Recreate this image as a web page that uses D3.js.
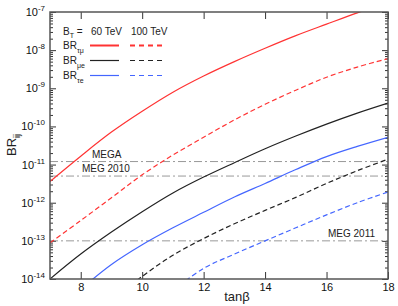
<!DOCTYPE html>
<html>
<head>
<meta charset="utf-8">
<script src="https://cdn.jsdelivr.net/npm/d3@7"></script>
<style>
  body { margin: 0; background: #fff; }
  svg { display: block; font-family: "Liberation Sans", Arial, sans-serif; }
</style>
</head>
<body>
<svg id="chart" width="398" height="306"></svg>
<script>
// tan(beta) sample points shared by every curve
const tanBeta = [7, 8, 9, 10, 11, 12, 13, 14, 15, 16, 17, 18];

// BR values (null = curve not drawn there)
const tauMu60  = [3.6e-12, 1.66e-11, 7.1e-11, 2.5e-10, 7.9e-10, 2.1e-9, 5.0e-9, 1.12e-8, 2.4e-8, 4.8e-8, 9.5e-8, 1.8e-7];
const tauMu100 = [8.9e-14, 3.4e-13, 1.35e-12, 5.4e-12, 1.78e-11, 5.2e-11, 1.48e-10, 3.8e-10, 8.9e-10, 1.95e-9, 3.6e-9, 6.0e-9];
const muE60    = [1.0e-14, 4.5e-14, 1.7e-13, 5.8e-13, 1.8e-12, 4.7e-12, 1.12e-11, 2.6e-11, 5.6e-11, 1.15e-10, 2.24e-10, 4.1e-10];
const muE100   = [null, null, 2.8e-15, 1.17e-14, 4.2e-14, 1.15e-13, 2.8e-13, 6.3e-13, 1.38e-12, 3.2e-12, 6.9e-12, 1.38e-11];
const tauE60   = [null, 5.4e-15, 2.4e-14, 7.9e-14, 2.2e-13, 5.6e-13, 1.41e-12, 3.2e-12, 7.4e-12, 1.62e-11, 3.0e-11, 5.2e-11];
const tauE100  = [null, null, null, null, 5.0e-15, 1.9e-14, 4.5e-14, 1.0e-13, 2.2e-13, 4.8e-13, 1.0e-12, 1.9e-12];

// experimental limits
const limitNames  = ["MEGA", "MEG 2010", "MEG 2011"];
const limitValues = [1.2e-11, 5e-12, 1e-13];

const xTicks = [8, 10, 12, 14, 16, 18];
const yDecades = [-14, -13, -12, -11, -10, -9, -8, -7];

const margin = { top: 12, right: 10, bottom: 27, left: 50 };
const W = 398, H = 306;
const iw = W - margin.left - margin.right;
const ih = H - margin.top - margin.bottom;

const svg = d3.select('#chart');
const g = svg.append('g').attr('transform', `translate(${margin.left},${margin.top})`);

const x = d3.scaleLinear().domain([7, 18]).range([0, iw]);
const y = d3.scaleLog().domain([1e-14, 1e-7]).range([ih, 0]);

svg.append('defs').append('clipPath').attr('id', 'plotClip')
  .append('rect').attr('width', iw).attr('height', ih);

// minor log ticks
const minors = [];
yDecades.slice(0, -1).forEach(e => {
  for (let k = 2; k <= 9; k++) minors.push(k * Math.pow(10, e));
});
const majors = yDecades.map(e => Math.pow(10, e));

function styleAxis(sel) {
  sel.select('.domain').remove();
  sel.selectAll('line').attr('stroke', '#333').attr('stroke-width', 1);
}

// left axis
g.append('g').call(d3.axisLeft(y).tickValues(minors).tickSize(-3).tickFormat('')).call(styleAxis);
const yl = g.append('g').call(d3.axisLeft(y).tickValues(majors).tickSize(-6).tickPadding(5)).call(styleAxis);
yl.selectAll('.tick text').each(function (d) {
  const t = d3.select(this).text(null).attr('font-size', 11).attr('fill', '#111');
  t.append('tspan').text('10');
  t.append('tspan').attr('dy', -5).attr('font-size', 8).text(Math.round(Math.log10(d)) + '');
});
// right axis
const yr = g.append('g').attr('transform', `translate(${iw},0)`);
yr.append('g').call(d3.axisRight(y).tickValues(minors).tickSize(-3).tickFormat('')).call(styleAxis);
yr.append('g').call(d3.axisRight(y).tickValues(majors).tickSize(-6).tickFormat('')).call(styleAxis);

// bottom / top axes
const xb = g.append('g').attr('transform', `translate(0,${ih})`)
  .call(d3.axisBottom(x).tickValues(xTicks).tickSize(-7).tickPadding(4)).call(styleAxis);
xb.selectAll('.tick text').attr('font-size', 11).attr('fill', '#111');
g.append('g').call(d3.axisTop(x).tickValues(xTicks).tickSize(-7).tickFormat('')).call(styleAxis);

// limit lines
const lim = g.append('g');
limitValues.forEach(v => {
  lim.append('line')
    .attr('x1', 0).attr('x2', iw)
    .attr('y1', y(v)).attr('y2', y(v))
    .attr('stroke', '#999').attr('stroke-width', 1)
    .attr('stroke-dasharray', '8,3,2,3');
});
const limLabelPos = [[42, -4], [32, -4], [278, -4]];
limitNames.forEach((name, i) => {
  g.append('text')
    .attr('x', limLabelPos[i][0])
    .attr('y', y(limitValues[i]) + limLabelPos[i][1])
    .attr('font-size', 10).attr('fill', '#222')
    .text(name);
});

// curves
const series = [
  { vals: tauMu60, color: '#ff3333', dash: null },
  { vals: tauMu100, color: '#ff3333', dash: '5,3' },
  { vals: muE60, color: '#222222', dash: null },
  { vals: muE100, color: '#222222', dash: '5,3' },
  { vals: tauE60, color: '#4466ff', dash: null },
  { vals: tauE100, color: '#4466ff', dash: '5,3' }
];
const line = d3.line()
  .defined(d => d[1] != null)
  .x(d => x(d[0]))
  .y(d => y(d[1]))
  .curve(d3.curveCatmullRom);

const curves = g.append('g').attr('clip-path', 'url(#plotClip)');
series.forEach(s => {
  curves.append('path')
    .datum(tanBeta.map((t, i) => [t, s.vals[i]]))
    .attr('d', line)
    .attr('fill', 'none')
    .attr('stroke', s.color)
    .attr('stroke-width', 1.2)
    .attr('stroke-dasharray', s.dash);
});

// frame
g.append('rect').attr('width', iw).attr('height', ih)
  .attr('fill', 'none').attr('stroke', '#555').attr('stroke-width', 1.5);

// legend
const leg = g.append('g').attr('font-size', 10).attr('fill', '#222');
const bt = leg.append('text').attr('x', 13).attr('y', 23);
bt.append('tspan').text('B');
bt.append('tspan').attr('dy', 3).attr('font-size', 7).text('T');
bt.append('tspan').attr('dy', -3).text(' =');
leg.append('text').attr('x', 41).attr('y', 23).text('60 TeV');
leg.append('text').attr('x', 81).attr('y', 23).text('100 TeV');

const legRows = [['τμ', '#ff3333'], ['μe', '#222222'], ['τe', '#4466ff']];
legRows.forEach((r, i) => {
  const yy = 33.5 + i * 15;
  const t = leg.append('text').attr('x', 13).attr('y', yy + 3.5);
  t.append('tspan').text('BR');
  t.append('tspan').attr('dy', 4).attr('font-size', 7).text(r[0]);
  leg.append('line').attr('x1', 40).attr('x2', 69).attr('y1', yy).attr('y2', yy)
    .attr('stroke', r[1]).attr('stroke-width', i === 0 ? 2 : 1.2);
  leg.append('line').attr('x1', 80).attr('x2', 113).attr('y1', yy).attr('y2', yy)
    .attr('stroke', r[1]).attr('stroke-width', i === 0 ? 2 : 1.2)
    .attr('stroke-dasharray', '5,4');
});

// axis titles
svg.append('text')
  .attr('x', margin.left + iw / 2 + 18).attr('y', 301)
  .attr('text-anchor', 'middle').attr('font-size', 13).attr('fill', '#222')
  .text('tanβ');

const yt = svg.append('text')
  .attr('transform', 'translate(16,156) rotate(-90)')
  .attr('font-size', 13).attr('fill', '#222');
yt.append('tspan').text('BR');
yt.append('tspan').attr('dy', 4).attr('font-size', 9).text('ij');
</script>
</body>
</html>
